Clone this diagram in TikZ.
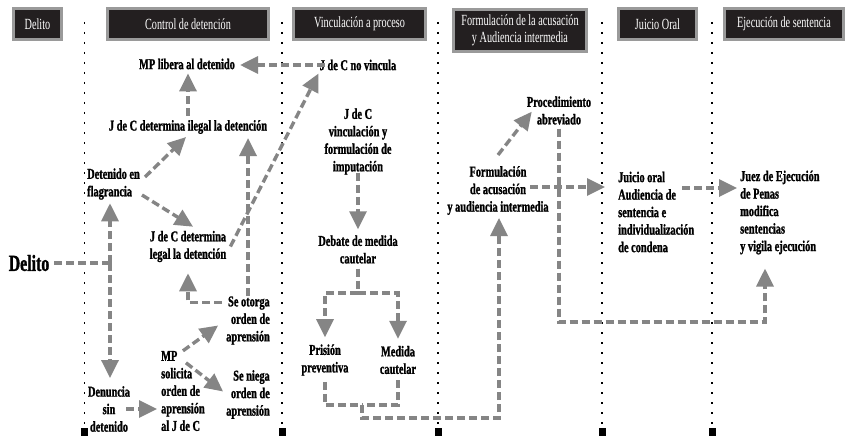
\documentclass[tikz,border=0pt]{standalone}
\usepackage{fontspec}
\usetikzlibrary{arrows.meta}
\newfontfamily\condserif[FakeStretch=0.66]{Liberation Serif}
\newfontfamily\heavyserif[FakeStretch=0.69,FakeBold=1.3]{Liberation Serif Bold}
\definecolor{lgray}{HTML}{858585}
\definecolor{hblack}{HTML}{231F20}
\definecolor{hgray}{HTML}{9A9A9A}
\newcommand\lblfont{\heavyserif\fontsize{15}{17.5}\selectfont}
\newcommand\hdrfont{\condserif\fontsize{15.5}{17}\selectfont}
\newcommand\bigfont{\heavyserif\fontsize{23}{24}\selectfont}
\begin{document}
\begin{tikzpicture}[x=1pt,y=-1pt,
  conn/.style={draw=lgray, line width=3.4pt, dash pattern=on 8pt off 4pt},
  arr/.style={conn, -{Triangle[length=18pt,width=17pt]}},
  lbl/.style={font=\lblfont, inner sep=0pt, text=black},
  hdr/.style={draw=hgray, fill=hblack, line width=2.5pt, text=white, font=\hdrfont, minimum height=31pt, inner sep=0pt},
  sepline/.style={draw=black, line width=1.8pt, dash pattern=on 1.8pt off 8.2pt}]
\fill[white] (0,0) rectangle (852,436);
\useasboundingbox (0,0) rectangle (852,436);

% separators
\foreach \x in {84.5,282,438,602,712} {
  \draw[sepline] (\x,22) -- (\x,425);
  \fill[black] (\x-3.5,428) rectangle (\x+3.5,436);
}

% headers
\node[hdr, minimum width=48pt] (h1) at (37.5,24) {Delito};
\node[hdr, minimum width=161pt] (h2) at (188,24) {Control de detención};
\node[hdr, minimum width=132pt] (h3) at (359.5,24) {Vinculación a proceso};
\node[hdr, minimum width=133pt, minimum height=42pt, align=center] (h4) at (520,30.5) {Formulación de la acusación\\y Audiencia intermedia};
\node[hdr, minimum width=78pt] (h5) at (657.5,24) {Juicio Oral};
\node[hdr, minimum width=119pt] (h6) at (784,24) {Ejecución de sentencia};

% text nodes
\node[lbl, font=\bigfont] (delito) at (29,263) {Delito};
\node[lbl, anchor=west, align=left] (det) at (87,184) {Detenido en\\flagrancia};
\node[lbl, align=center] (den) at (109,409) {Denuncia\\sin\\detenido};
\node[lbl, anchor=west, align=left] (mp) at (161,391) {MP\\solicita\\orden de\\aprensión\\al J de C};
\node[lbl, anchor=east, align=right] (oto) at (270,320.5) {Se otorga\\orden de\\aprensión};
\node[lbl, anchor=east, align=right] (nie) at (270,394.5) {Se niega\\orden de\\aprensión};
\node[lbl, align=center] (legal) at (188,246.5) {J de C determina\\legal la detención};
\node[lbl] (ilegal) at (188,127) {J de C determina ilegal la detención};
\node[lbl] (lib) at (187,64) {MP libera al detenido};
\node[lbl] (nov) at (358,65) {J de C no vincula};
\node[lbl, align=center] (vinc) at (358,141.5) {J de C\\vinculación y\\formulación de\\imputación};
\node[lbl, align=center] (deb) at (358,249.5) {Debate de medida\\cautelar};
\node[lbl, align=center] (pri) at (325,360) {Prisión\\preventiva};
\node[lbl, align=center] (med) at (398,360) {Medida\\cautelar};
\node[lbl, align=center] (form) at (498,190.5) {Formulación\\de acusación\\y audiencia intermedia};
\node[lbl, align=center] (proc) at (559,110.5) {Procedimiento\\abreviado};
\node[lbl, anchor=west, align=left] (jui) at (618,212) {Juicio oral\\Audiencia de\\sentencia e\\individualización\\de condena};
\node[lbl, anchor=west, align=left] (jue) at (740,212.5) {Juez de Ejecución\\de Penas\\modifica\\sentencias\\y vigila ejecución};

% connectors
\coordinate (j1) at (110,263);
\draw[conn, shorten <=5pt] (delito.east) -- (j1);
\draw[arr, shorten >=3.5pt] (j1) -- (j1 |- det.south);
\draw[arr, shorten >=8pt] (j1) -- (j1 |- den.north);
\draw[arr, shorten >=4pt] ([shift={(-4,0)}]den.east) -- (den.east -| mp.west);
\draw[arr] (mp.north) -- ([shift={(-8,5)}]oto.west);
\draw[arr] ([shift={(3,12)}]mp.north) -- ([shift={(-3,-3)}]nie.west);
\draw[arr, shorten >=4pt] (oto.north) -- (oto.north |- ilegal.south);
\draw[arr, shorten >=11pt] ([shift={(-4,6)}]oto.north west) -| (legal.south);
\draw[arr] ([shift={(2,11)}]det.east) -- ([shift={(5,-4)}]legal.north);
\draw[arr] ([shift={(5,-7)}]det.east) -- ([shift={(-2,3)}]ilegal.south);
\draw[arr, shorten <=4pt, shorten >=4pt] (ilegal.north) -- (ilegal.north |- lib.south);
\draw[arr, shorten <=-5pt, shorten >=5pt] (nov.west) -- (nov.west -| lib.east);
\draw[arr] ([shift={(4,0)}]legal.east) -- ([shift={(-1,3)}]nov.south west);
\draw[arr, shorten <=-2pt, shorten >=6pt] (vinc.south) -- (deb.north);
\coordinate (bar1) at (358,293);
\draw[conn, shorten <=5pt] (deb.south) -- (bar1);
\draw[arr, shorten >=7pt] (bar1) -| (pri.north);
\draw[arr, shorten >=7pt] (bar1) -| (med.north);
\coordinate (bar2) at (362,405);
\draw[conn, shorten <=6pt] (pri.south) |- (bar2);
\draw[conn, shorten <=6pt] (med.south) |- (bar2);
\coordinate (j3) at (499,418);
\draw[arr, shorten >=3pt] (bar2) |- (j3) -- (j3 |- form.south);
\draw[arr] ([shift={(0,-11)}]form.north) -- ([shift={(5,-13)}]proc.south west);
\coordinate (fj) at ([shift={(32,-3.5)}]form.center);
\draw[arr, shorten >=13pt] (fj) -- (fj -| jui.west);
\coordinate (j4) at (765,322);
\draw[arr, shorten <=4pt, shorten >=14pt] (proc.south) |- (j4) -- (j4 |- jue.south);
\coordinate (jj) at ([shift={(64,-24)}]jui.west);
\draw[arr, shorten >=3pt] (jj) -- (jj -| jue.west);
\end{tikzpicture}
\end{document}
